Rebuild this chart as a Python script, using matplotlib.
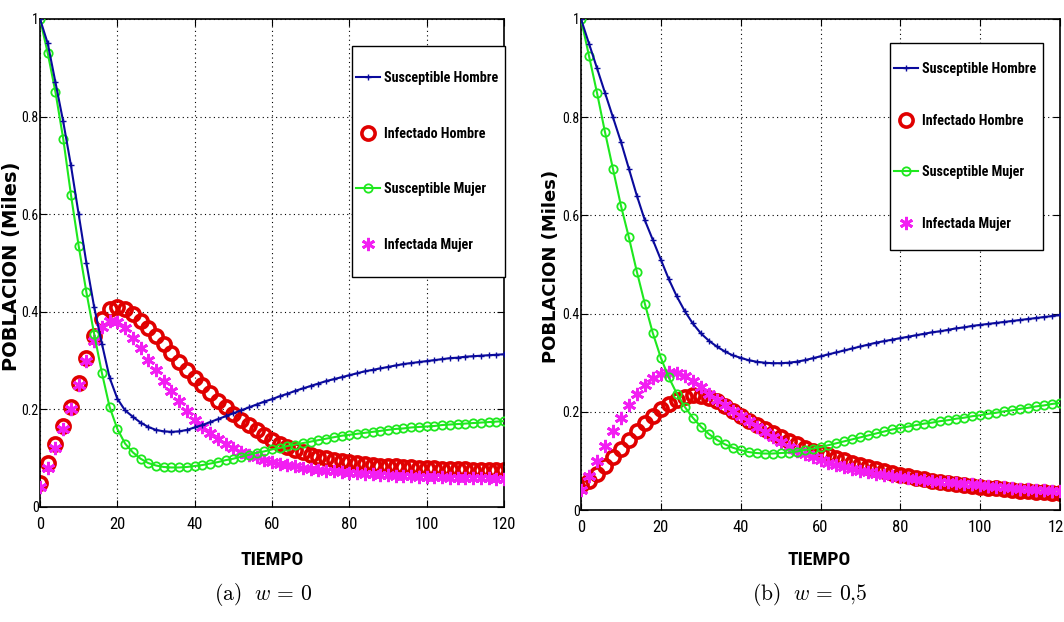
import matplotlib
matplotlib.use("Agg")
import matplotlib.pyplot as plt
from matplotlib import font_manager as fm
from matplotlib.patches import Rectangle
import numpy as np

plt.rcParams["mathtext.fontset"] = "cm"

# time grid (dias) and series, one value every 2 units
TIEMPO = np.arange(0, 121, 2)

# panel (a) w = 0
SH_A = [1.0, 0.95, 0.87, 0.79, 0.70, 0.60, 0.50, 0.41, 0.335, 0.265, 0.222, 0.198, 0.185,
        0.173, 0.164, 0.158, 0.155, 0.154, 0.155, 0.158, 0.163, 0.168, 0.174, 0.180, 0.186,
        0.192, 0.198, 0.204, 0.210, 0.216, 0.221, 0.227, 0.232, 0.238, 0.243, 0.248, 0.253,
        0.258, 0.262, 0.266, 0.270, 0.274, 0.278, 0.281, 0.284, 0.287, 0.290, 0.293, 0.295,
        0.297, 0.299, 0.301, 0.303, 0.305, 0.306, 0.308, 0.309, 0.310, 0.311, 0.312, 0.313]
IH_A = [0.05, 0.09, 0.13, 0.165, 0.205, 0.255, 0.305, 0.35, 0.385, 0.405, 0.41, 0.405, 0.395,
        0.382, 0.367, 0.35, 0.333, 0.315, 0.298, 0.281, 0.265, 0.249, 0.233, 0.218, 0.204,
        0.191, 0.179, 0.168, 0.157, 0.147, 0.138, 0.130, 0.123, 0.117, 0.112, 0.107, 0.103,
        0.100, 0.097, 0.094, 0.092, 0.090, 0.088, 0.087, 0.085, 0.084, 0.083, 0.082, 0.081,
        0.080, 0.080, 0.079, 0.078, 0.078, 0.077, 0.077, 0.076, 0.076, 0.076, 0.075, 0.075]
SM_A = [1.0, 0.93, 0.85, 0.755, 0.64, 0.535, 0.44, 0.355, 0.275, 0.205, 0.16, 0.13, 0.112,
        0.099, 0.09, 0.085, 0.082, 0.081, 0.081, 0.082, 0.084, 0.086, 0.089, 0.092, 0.096,
        0.099, 0.103, 0.107, 0.111, 0.114, 0.118, 0.121, 0.125, 0.128, 0.131, 0.134, 0.137,
        0.140, 0.143, 0.146, 0.148, 0.150, 0.152, 0.154, 0.156, 0.158, 0.160, 0.161, 0.163,
        0.164, 0.165, 0.166, 0.168, 0.169, 0.170, 0.171, 0.172, 0.173, 0.174, 0.175, 0.176]
IM_A = [0.04, 0.08, 0.12, 0.16, 0.20, 0.25, 0.30, 0.34, 0.368, 0.381, 0.379, 0.366, 0.347,
        0.325, 0.302, 0.28, 0.258, 0.237, 0.217, 0.197, 0.179, 0.164, 0.151, 0.139, 0.129,
        0.120, 0.113, 0.107, 0.102, 0.097, 0.093, 0.089, 0.086, 0.083, 0.080, 0.078, 0.076,
        0.074, 0.073, 0.071, 0.070, 0.069, 0.068, 0.067, 0.066, 0.065, 0.064, 0.064, 0.063,
        0.062, 0.062, 0.061, 0.061, 0.060, 0.060, 0.060, 0.059, 0.059, 0.059, 0.058, 0.058]

# panel (b) w = 0,5
SH_B = [1.0, 0.95, 0.90, 0.85, 0.80, 0.75, 0.695, 0.64, 0.59, 0.55, 0.51, 0.47, 0.435,
        0.405, 0.38, 0.36, 0.345, 0.333, 0.323, 0.315, 0.31, 0.305, 0.302, 0.30, 0.299,
        0.299, 0.300, 0.302, 0.305, 0.309, 0.313, 0.317, 0.321, 0.325, 0.329, 0.333, 0.337,
        0.341, 0.344, 0.347, 0.350, 0.353, 0.356, 0.359, 0.362, 0.364, 0.367, 0.370, 0.372,
        0.375, 0.377, 0.379, 0.381, 0.383, 0.385, 0.387, 0.389, 0.391, 0.393, 0.395, 0.397]
IH_B = [0.05, 0.06, 0.074, 0.09, 0.107, 0.124, 0.142, 0.16, 0.177, 0.192, 0.205, 0.215,
        0.224, 0.231, 0.234, 0.233, 0.228, 0.221, 0.212, 0.202, 0.192, 0.182, 0.173, 0.164,
        0.156, 0.148, 0.141, 0.134, 0.127, 0.121, 0.116, 0.111, 0.106, 0.101, 0.096, 0.092,
        0.088, 0.084, 0.080, 0.076, 0.072, 0.069, 0.066, 0.063, 0.060, 0.058, 0.055, 0.053,
        0.051, 0.049, 0.047, 0.045, 0.044, 0.042, 0.041, 0.039, 0.038, 0.037, 0.036, 0.035,
        0.034]
SM_B = [1.0, 0.925, 0.85, 0.77, 0.695, 0.62, 0.555, 0.485, 0.42, 0.36, 0.31, 0.27, 0.237,
        0.21, 0.188, 0.17, 0.155, 0.143, 0.134, 0.127, 0.122, 0.118, 0.116, 0.115, 0.115,
        0.116, 0.117, 0.119, 0.122, 0.125, 0.128, 0.132, 0.136, 0.140, 0.144, 0.148, 0.152,
        0.156, 0.160, 0.164, 0.167, 0.170, 0.173, 0.176, 0.178, 0.181, 0.183, 0.186, 0.188,
        0.191, 0.193, 0.196, 0.198, 0.201, 0.203, 0.206, 0.208, 0.211, 0.213, 0.216, 0.218]
IM_B = [0.04, 0.07, 0.10, 0.13, 0.16, 0.188, 0.213, 0.236, 0.254, 0.268, 0.277, 0.281,
        0.279, 0.272, 0.262, 0.25, 0.237, 0.225, 0.213, 0.202, 0.192, 0.181, 0.17, 0.159,
        0.148, 0.138, 0.129, 0.121, 0.114, 0.107, 0.101, 0.096, 0.091, 0.087, 0.083, 0.080,
        0.077, 0.074, 0.072, 0.070, 0.068, 0.066, 0.064, 0.062, 0.060, 0.058, 0.057, 0.055,
        0.053, 0.052, 0.050, 0.049, 0.047, 0.046, 0.045, 0.043, 0.042, 0.041, 0.040, 0.039,
        0.038]

LABELS = ["Susceptible Hombre", "Infectado Hombre", "Susceptible Mujer", "Infectada Mujer"]
XTICKS = [0, 20, 40, 60, 80, 100, 120]
YTICKS = [0, 0.2, 0.4, 0.6, 0.8, 1.0]
YTICK_LABELS = ["0", "0.2", "0.4", "0.6", "0.8", "1"]
CAPTIONS = [r"$\mathrm{(a)}\ \ w\, =\, 0$", r"$\mathrm{(b)}\ \ w\, =\, 0{,}5$"]

BLUE, RED, GREEN, MAGENTA = "#0a0a9c", "#e00000", "#1ee81e", "#f21ef2"
W, H = 1064, 622


def pick_narrow():
    # the original uses a condensed sans; take the narrowest one we have
    fonts = fm.fontManager.ttflist
    names = {f.name for f in fonts}
    for fam in ("Liberation Sans Narrow", "Roboto Condensed", "Open Sans Condensed",
                "Noto Sans Condensed"):
        if fam in names:
            return dict(family=fam, stretch="normal")
    for f in fonts:
        if f.name in ("DejaVu Sans", "Noto Sans", "Roboto") and "condensed" in str(f.stretch):
            return dict(family=f.name, stretch="condensed")
    return dict(family="Liberation Sans", stretch="normal")


NARROW = pick_narrow()


def panel(fig, ax, sh, ih, sm, im, box, lsp):
    h_ih, = ax.plot(TIEMPO, ih, ls="none", marker="o", ms=9.5, mfc="none", mec=RED,
                    mew=2.6, zorder=2)
    h_im, = ax.plot(TIEMPO, im, ls="none", marker=(6, 2, 0), ms=9.5, mec=MAGENTA,
                    mew=2.0, zorder=3)
    h_sm, = ax.plot(TIEMPO, sm, color=GREEN, lw=1.5, marker="o", ms=6, mfc="none",
                    mec=GREEN, mew=1.3, zorder=4)
    h_sh, = ax.plot(TIEMPO, sh, color=BLUE, lw=1.5, marker="+", ms=4, mew=1, zorder=5)
    ax.set_xlim(0, 120)
    ax.set_ylim(0, 1)
    ax.set_xticks(XTICKS)
    ax.set_yticks(YTICKS)
    ax.set_yticklabels(YTICK_LABELS)
    ax.grid(True, color="black", ls=(0, (1, 3)), lw=0.8)
    ax.tick_params(direction="in", top=True, right=True, length=5, width=0.8)
    ax.tick_params(axis="y", labelsize=10, pad=1)
    ax.tick_params(axis="x", labelsize=12, pad=7)
    for lab in ax.get_xticklabels() + ax.get_yticklabels():
        lab.set_family(NARROW["family"])
        lab.set_stretch(NARROW["stretch"])
    for sp in ax.spines.values():
        sp.set_linewidth(1.2)

    # legend box drawn on its own: tall padding top/bottom, tight at the sides
    x0, y0, x1, y1 = box
    fig.patches.append(Rectangle((x0 / W, 1 - y1 / H), (x1 - x0) / W, (y1 - y0) / H,
                                 transform=fig.transFigure, facecolor="white",
                                 edgecolor="black", lw=1.0, zorder=4))
    leg = fig.legend([h_sh, h_ih, h_sm, h_im], LABELS, loc="center left",
                     bbox_to_anchor=((x0 + 4) / W, 1 - (y0 + y1) / 2 / H),
                     frameon=False, borderaxespad=0, borderpad=0,
                     handlelength=1.7, handletextpad=0.25, labelspacing=lsp,
                     prop=dict(family=NARROW["family"], stretch=NARROW["stretch"],
                               weight="bold", size=10.2))
    leg.set_zorder(6)


fig = plt.figure(figsize=(W / 100, H / 100), dpi=100)
ax_a = fig.add_axes([40 / W, 1 - 507 / H, 464 / W, 488 / H])
ax_b = fig.add_axes([581 / W, 1 - 510 / H, 479 / W, 491 / H])

panel(fig, ax_a, SH_A, IH_A, SM_A, IM_A, (352, 46, 505, 277), 2.95)
panel(fig, ax_b, SH_B, IH_B, SM_B, IM_B, (890, 43, 1043, 250), 2.65)

for xc, size in ((12, 14), (551, 13)):
    fig.text(xc / W, 1 - 266 / H, "POBLACION (Miles)", rotation=90, ha="center",
             va="center", fontsize=size, fontweight="bold", family="DejaVu Sans")
for xc in (272, 819):
    fig.text(xc / W, 1 - 560 / H, "TIEMPO", ha="center", va="center", fontsize=14,
             fontweight="bold", family=NARROW["family"], stretch=NARROW["stretch"])
for xc, cap in zip((263, 810), CAPTIONS):
    fig.text(xc / W, 1 - 594 / H, cap, ha="center", va="center", fontsize=15.5)

fig.savefig("out.png", dpi=100)
